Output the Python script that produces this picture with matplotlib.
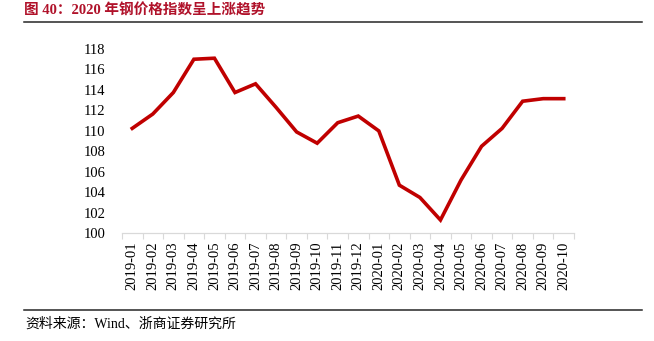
import matplotlib
matplotlib.use("Agg")
import matplotlib.pyplot as plt
from matplotlib.lines import Line2D

# ── data ─────────────────────────────────────────────────────────────────────
months = ["2019-01", "2019-02", "2019-03", "2019-04", "2019-05", "2019-06",
          "2019-07", "2019-08", "2019-09", "2019-10", "2019-11", "2019-12",
          "2020-01", "2020-02", "2020-03", "2020-04", "2020-05", "2020-06",
          "2020-07", "2020-08", "2020-09", "2020-10"]
steel_index = [110.25, 111.65, 113.75, 117.0, 117.1, 113.75,
               114.6, 112.3, 109.9, 108.8, 110.8, 111.45,
               110.0, 104.7, 103.5, 101.3, 105.2, 108.5,
               110.25, 112.9, 113.15, 113.15]
y_ticks = [100, 102, 104, 106, 108, 110, 112, 114, 116, 118]

title = "图 40：2020 年钢价格指数呈上涨趋势"
source = "资料来源：Wind、浙商证券研究所"

SERIF = ["Liberation Serif", "Noto Sans CJK SC", "DejaVu Sans"]

fig = plt.figure(figsize=(6.54, 3.41), dpi=100)
fig.patch.set_facecolor("white")

# ── main plot ────────────────────────────────────────────────────────────────
ax = fig.add_axes([0.1865, 0.3158, 0.6912, 0.5405])
x = list(range(len(months)))
ax.plot(x, steel_index, color="#C00000", linewidth=2.6, solid_joinstyle="miter")

ax.set_xlim(-0.5, len(months) - 0.5)
ax.set_ylim(y_ticks[0], y_ticks[-1])
ax.set_yticks(y_ticks)
ax.set_yticklabels([str(v) for v in y_ticks], family=SERIF, fontsize=10.5)
ax.set_xticks(x)
ax.set_xticklabels(months, rotation=90, family=SERIF, fontsize=10.5)
ax.set_xticks([i - 0.5 for i in range(len(months) + 1)], minor=True)

ax.tick_params(axis="y", length=0, pad=12)
ax.tick_params(axis="x", which="major", length=0, pad=6)
ax.tick_params(axis="x", which="minor", length=4, color="#D9D9D9", width=0.8)

for side in ["top", "right", "left"]:
    ax.spines[side].set_visible(False)
ax.spines["bottom"].set_color("#D9D9D9")
ax.spines["bottom"].set_linewidth(0.9)

# ── header / footer ──────────────────────────────────────────────────────────
fig.text(24 / 654, 1 - 10 / 341, title, family=SERIF, fontsize=10.5,
         fontweight="bold", color="#B0122A", va="center", ha="left")
fig.add_artist(Line2D([24 / 654, 642 / 654], [1 - 22 / 341, 1 - 22 / 341],
                      color="#262626", linewidth=1.1))
fig.add_artist(Line2D([24 / 654, 642 / 654], [1 - 309.5 / 341, 1 - 309.5 / 341],
                      color="#262626", linewidth=1.1))
fig.text(25 / 654, 1 - 324 / 341, source, family=SERIF, fontsize=10,
         color="black", va="center", ha="left")

fig.savefig("out.png", dpi=100, facecolor="white")
